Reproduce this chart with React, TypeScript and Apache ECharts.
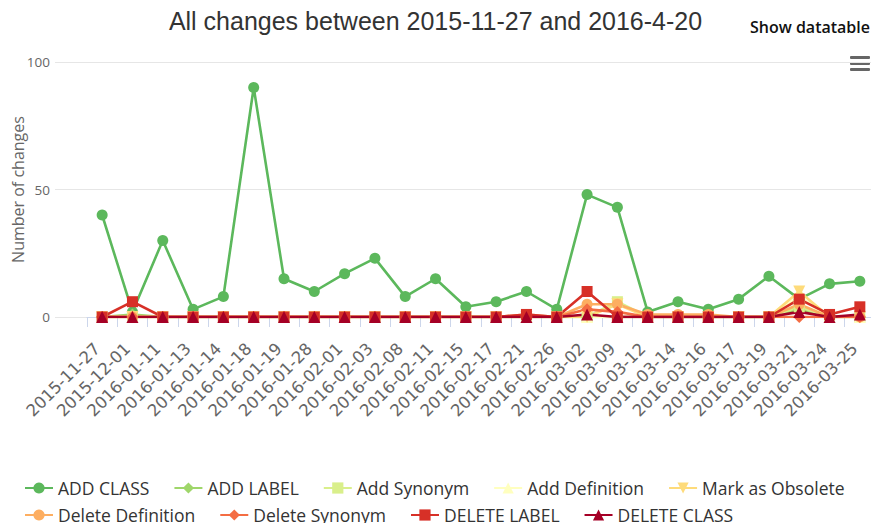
import React, { useEffect, useRef } from "react";
import * as echarts from "echarts";

const categories = [
  "2015-11-27", "2015-12-01", "2016-01-11", "2016-01-13", "2016-01-14", "2016-01-18",
  "2016-01-19", "2016-01-28", "2016-02-01", "2016-02-03", "2016-02-08", "2016-02-11",
  "2016-02-15", "2016-02-17", "2016-02-21", "2016-02-26", "2016-03-02", "2016-03-09",
  "2016-03-12", "2016-03-14", "2016-03-16", "2016-03-17", "2016-03-19", "2016-03-21",
  "2016-03-24", "2016-03-25",
];

const addClass = [40, 2, 30, 3, 8, 90, 15, 10, 17, 23, 8, 15, 4, 6, 10, 3, 48, 43, 2, 6, 3, 7, 16, 7, 13, 14];
const addLabel = [0, 1, 0, 0, 0, 0, 0, 0, 0, 0, 0, 0, 0, 0, 0, 0, 0, 0, 0, 0, 0, 0, 0, 3, 0, 0];
const addSynonym = [0, 0, 0, 0, 0, 0, 0, 0, 0, 0, 0, 0, 0, 0, 0, 0, 0, 6, 0, 0, 0, 0, 0, 4, 0, 0];
const addDefinition = [0, 0, 0, 0, 0, 0, 0, 0, 0, 0, 0, 0, 0, 0, 0, 0, 0, 0, 0, 0, 0, 0, 0, 8, 0, 0];
const markObsolete = [0, 0, 0, 0, 0, 0, 0, 0, 0, 0, 0, 0, 0, 0, 0, 0, 0, 5, 0, 0, 0, 0, 0, 10, 0, 0];
const deleteDefinition = [0, 0, 0, 0, 0, 0, 0, 0, 0, 0, 0, 0, 0, 0, 1, 0, 5, 5, 1, 1, 1, 0, 0, 5, 0, 0];
const deleteSynonym = [0, 0, 0, 0, 0, 0, 0, 0, 0, 0, 0, 0, 0, 0, 0, 0, 3, 2, 0, 0, 0, 0, 0, 0, 0, 0];
const deleteLabel = [0, 6, 0, 0, 0, 0, 0, 0, 0, 0, 0, 0, 0, 0, 1, 0, 10, 0, 0, 0, 0, 0, 0, 7, 1, 4];
const deleteClass = [0, 0, 0, 0, 0, 0, 0, 0, 0, 0, 0, 0, 0, 0, 0, 0, 1, 0, 0, 0, 0, 0, 0, 2, 0, 1];

const yTicks = [0, 50, 100];

const TRI_DOWN = "path://M0,0L10,0L5,9Z";

const seriesDefs = [
  { name: "ADD CLASS", data: addClass, color: "#5cb85c", symbol: "circle" },
  { name: "ADD LABEL", data: addLabel, color: "#9fd66a", symbol: "diamond" },
  { name: "Add Synonym", data: addSynonym, color: "#d9ef8b", symbol: "rect" },
  { name: "Add Definition", data: addDefinition, color: "#ffffbf", symbol: "triangle" },
  { name: "Mark as Obsolete", data: markObsolete, color: "#fedb7a", symbol: TRI_DOWN },
  { name: "Delete Definition", data: deleteDefinition, color: "#fdae61", symbol: "circle" },
  { name: "Delete Synonym", data: deleteSynonym, color: "#f46d43", symbol: "diamond" },
  { name: "DELETE LABEL", data: deleteLabel, color: "#d73027", symbol: "rect" },
  { name: "DELETE CLASS", data: deleteClass, color: "#a50026", symbol: "triangle" },
];

const FONT = "'Open Sans', 'Liberation Sans', sans-serif";

export default function App() {
  const ref = useRef<HTMLDivElement>(null);

  useEffect(() => {
    if (!ref.current) return;
    const chart = echarts.init(ref.current, null, { renderer: "svg" });
    const legendText = {
      fontFamily: FONT,
      fontSize: 17.5,
      lineHeight: 18,
      color: "#333",
      padding: [0, 0, 0, 0],
    };
    const legendBase = {
      left: 24,
      padding: 0,
      itemWidth: 28,
      itemHeight: 14,
      itemGap: 24,
      textStyle: legendText,
    };
    chart.setOption({
      animation: false,
      backgroundColor: "#fff",
      title: {
        text: "All changes between 2015-11-27 and 2016-4-20",
        left: "center",
        top: 3,
        textStyle: {
          fontFamily: "'Liberation Sans', Arial, sans-serif",
          fontSize: 25,
          fontWeight: "normal",
          color: "#333",
        },
      },
      legend: [
        { ...legendBase, data: seriesDefs.slice(0, 5).map((s) => s.name), top: 479 },
        { ...legendBase, data: seriesDefs.slice(5).map((s) => s.name), top: 506 },
      ],
      grid: [
        { left: 87, top: 62, width: 788, height: 255, containLabel: false, outerBoundsMode: "none" },
        { left: 55, top: 62, right: 0, height: 255, containLabel: false, outerBoundsMode: "none" },
      ],
      xAxis: [
        {
          type: "category",
          gridIndex: 0,
          data: categories,
          boundaryGap: true,
          axisLine: { lineStyle: { color: "#ccd6eb", width: 1 } },
          axisTick: { show: true, length: 10, lineStyle: { color: "#ccd6eb" } },
          axisLabel: {
            rotate: 45,
            interval: 0,
            margin: 24,
            padding: [0, 7, 0, 0],
            fontFamily: "'DejaVu Sans', sans-serif",
            fontSize: 16.5,
            color: "#666",
          },
        },
        {
          type: "value",
          gridIndex: 1,
          show: false,
          min: 0,
          max: 1,
        },
      ],
      yAxis: [
        {
          type: "value",
          gridIndex: 0,
          min: yTicks[0],
          max: yTicks[yTicks.length - 1],
          interval: yTicks[1] - yTicks[0],
          name: "Number of changes",
          nameLocation: "middle",
          nameGap: 61,
          nameMoveOverlap: false,
          nameRotate: 90,
          nameTextStyle: { fontFamily: FONT, fontSize: 16, color: "#666" },
          axisLine: { show: false },
          axisTick: { show: false },
          splitLine: { show: false },
          axisLabel: { margin: 37, fontFamily: FONT, fontSize: 13.5, color: "#666" },
        },
        {
          type: "value",
          gridIndex: 1,
          min: yTicks[0],
          max: yTicks[yTicks.length - 1],
          interval: yTicks[1] - yTicks[0],
          axisLine: { show: false },
          axisTick: { show: false },
          axisLabel: { show: false },
          splitLine: { show: true, lineStyle: { color: "#e6e6e6", width: 1 } },
        },
      ],
      graphic: [
        {
          type: "text",
          right: 1,
          top: 19,
          style: {
            text: "Show datatable",
            fontFamily: FONT,
            fontSize: 16,
            fontWeight: 600,
            fill: "#111",
          },
        },
        {
          type: "group",
          right: 0,
          top: 52,
          children: [
            { type: "rect", shape: { x: 0, y: 0, width: 29, height: 22 }, style: { fill: "#fff" } },
            { type: "rect", shape: { x: 8, y: 4, width: 20, height: 3, r: 1 }, style: { fill: "#666" } },
            { type: "rect", shape: { x: 8, y: 10, width: 20, height: 3, r: 1 }, style: { fill: "#666" } },
            { type: "rect", shape: { x: 8, y: 16, width: 20, height: 3, r: 1 }, style: { fill: "#666" } },
          ],
        },
      ],
      series: seriesDefs.map((s) => ({
        name: s.name,
        type: "line",
        xAxisIndex: 0,
        yAxisIndex: 0,
        data: s.data,
        symbol: s.symbol,
        symbolSize: s.symbol === "circle" ? 11 : s.symbol === "rect" ? 11 : 12,
        showAllSymbol: true,
        lineStyle: { width: 2.6, color: s.color },
        itemStyle: { color: s.color },
        emphasis: { disabled: true },
      })),
    });
    return () => chart.dispose();
  }, []);

  return (
    <div
      ref={ref}
      style={{ position: "fixed", left: 0, top: 0, width: 871, height: 523 }}
    />
  );
}
